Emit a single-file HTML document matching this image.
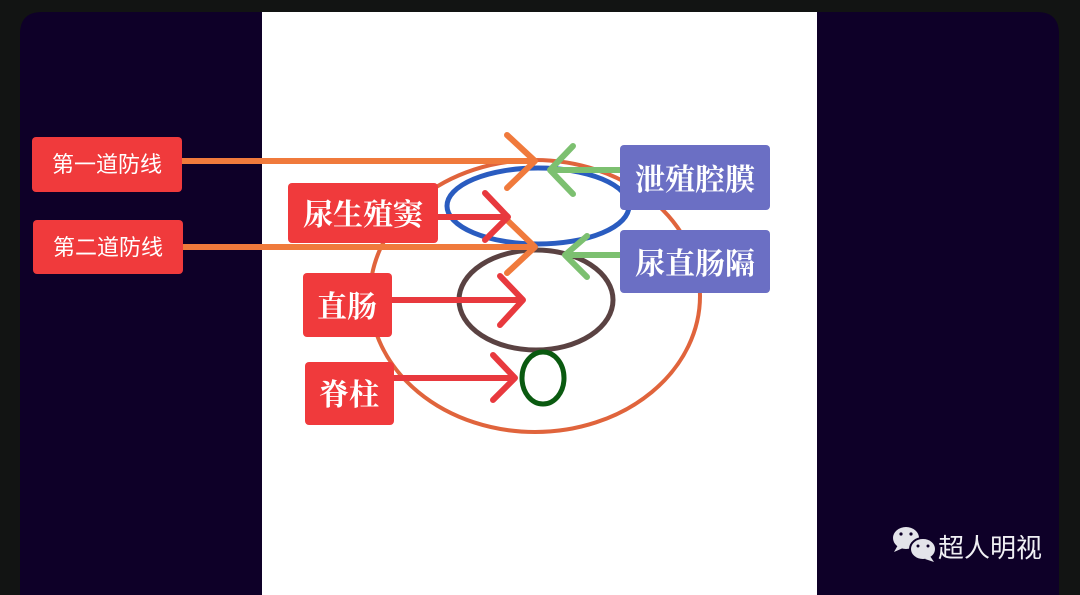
<!DOCTYPE html>
<html><head><meta charset="utf-8"><style>
html,body{margin:0;padding:0;background:#121413;width:1080px;height:595px;overflow:hidden}
svg{display:block}
text{font-family:"Liberation Serif","Noto Serif CJK SC",serif;fill:#fff}
</style></head><body>
<svg width="1080" height="595" viewBox="0 0 1080 595">
<rect x="0" y="0" width="1080" height="595" fill="#121413"/>
<path d="M20 595V34Q20 12 42 12H1037Q1059 12 1059 34V595Z" fill="#0e0028"/>
<rect x="262" y="12" width="555" height="583" fill="#fff"/>
<g fill="none" stroke-linecap="round" stroke-linejoin="round">
<ellipse cx="535" cy="296" rx="165" ry="136" stroke="#e0643c" stroke-width="4"/>
<ellipse cx="538" cy="206" rx="91" ry="38" stroke="#2a5cc0" stroke-width="5"/>
<ellipse cx="536" cy="300" rx="77" ry="50" stroke="#5a4242" stroke-width="5"/>
<ellipse cx="543" cy="378" rx="21" ry="26" stroke="#0a5a10" stroke-width="5"/>
<g stroke="#f07a3c" stroke-width="6">
<path d="M182 161H535M507 135L535 161L507 188"/>
<path d="M183 247H535M507 220L535 247L507 273"/>
</g>
<g stroke="#7cc070" stroke-width="6">
<path d="M620 170H550M573 146L550 170L573 194"/>
<path d="M620 255H565M587 236L565 255L587 277"/>
</g>
<g stroke="#e8393e" stroke-width="6">
<path d="M438 217H508M485 193L508 217L485 240"/>
<path d="M392 300H523M500 276L523 300L500 325"/>
<path d="M394 378H515M493 355L515 378L493 400"/>
</g>
</g>
<g fill="#f03a3c">
<rect x="32" y="137" width="150" height="55" rx="4"/>
<rect x="33" y="220" width="150" height="54" rx="4"/>
<rect x="288" y="183" width="150" height="60" rx="4"/>
<rect x="303" y="273" width="89" height="64" rx="4"/>
<rect x="305" y="362" width="89" height="63" rx="4"/>
</g>
<g fill="#6b6fc4">
<rect x="620" y="145" width="150" height="65" rx="4"/>
<rect x="620" y="230" width="150" height="63" rx="4"/>
</g>
<g font-size="22" text-anchor="middle">
<text x="107" y="172" style="font-family:'Liberation Sans','Noto Sans CJK SC',sans-serif">第一道防线</text>
<text x="108" y="255" style="font-family:'Liberation Sans','Noto Sans CJK SC',sans-serif">第二道防线</text>
</g>
<g font-size="30" text-anchor="middle" font-weight="bold">
<text x="363" y="225">尿生殖窦</text>
<text x="347" y="317">直肠</text>
<text x="349" y="405">脊柱</text>
<text x="695" y="190">泄殖腔膜</text>
<text x="695" y="274">尿直肠隔</text>
</g>
<g fill="#e4e4ea">
<ellipse cx="906" cy="538" rx="13" ry="11"/>
<path d="M898 545l-4 7 9-4z"/>
<ellipse cx="923" cy="549" rx="13" ry="11" stroke="#0e0028" stroke-width="2"/>
<path d="M930 556l4 6-9-3z"/>
</g>
<g fill="#0e0028"><circle cx="901" cy="534" r="1.6"/><circle cx="911" cy="534" r="1.6"/><circle cx="918" cy="546" r="1.5"/><circle cx="928" cy="546" r="1.5"/></g>
<text x="938" y="557" font-size="26" style="font-family:'Liberation Sans','Noto Sans CJK SC',sans-serif;fill:#f0f0f4">超人明视</text>
</svg>
</body></html>
